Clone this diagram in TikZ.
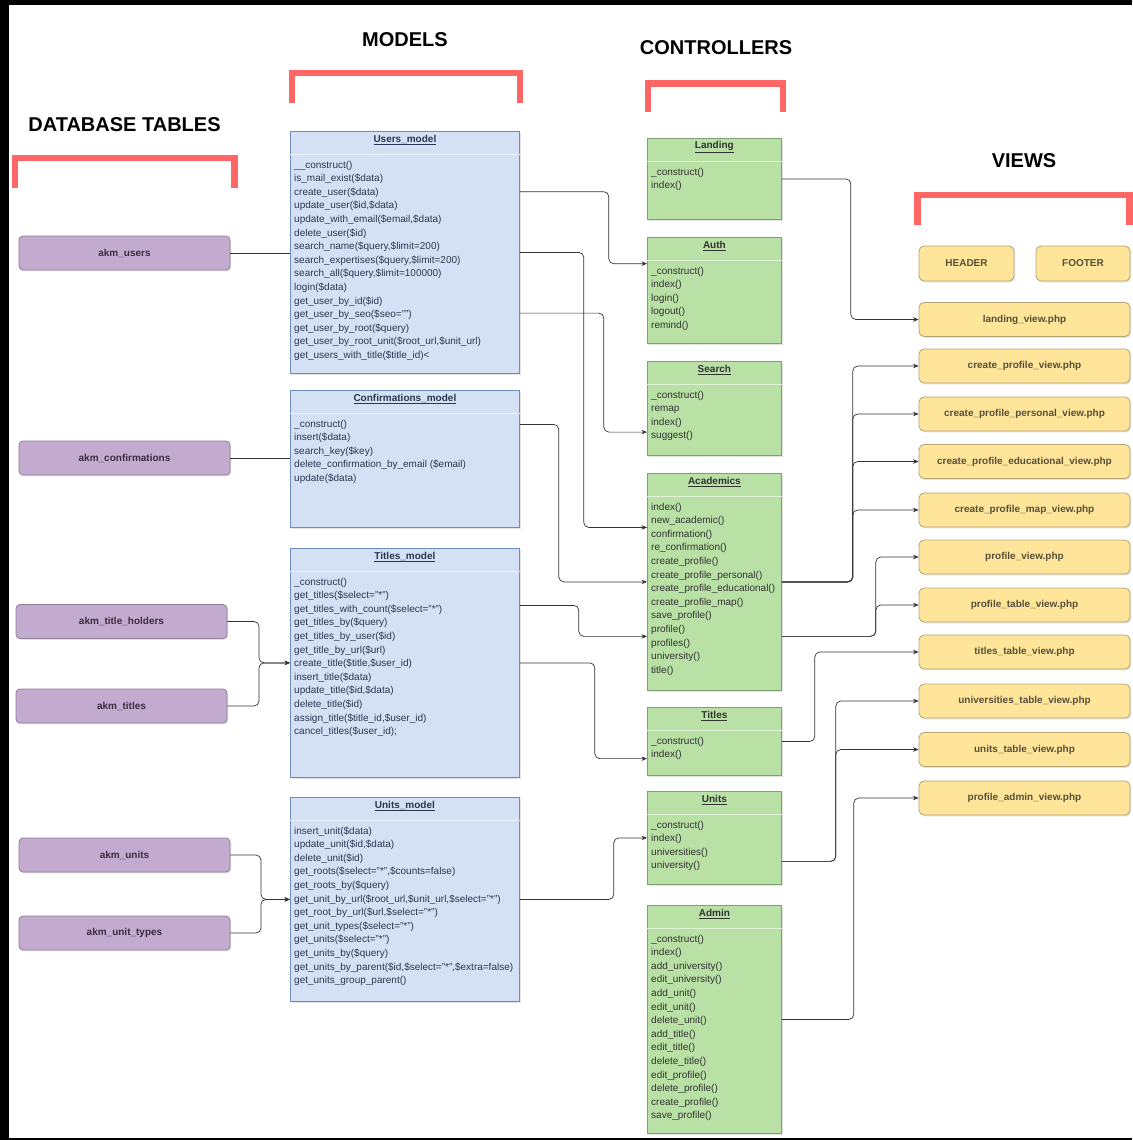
\documentclass[tikz,border=0pt]{standalone}
\usepackage{fontspec}
\setmainfont{Liberation Sans}
\usetikzlibrary{calc,arrows.meta,shadows}

\definecolor{bracketred}{HTML}{FF6666}
\definecolor{mdlfill}{HTML}{D4E1F5}
\definecolor{mdlline}{HTML}{6C8EBF}
\definecolor{mdltext}{HTML}{2A3650}
\definecolor{ctlfill}{HTML}{B9E0A5}
\definecolor{ctlline}{HTML}{7F9F74}
\definecolor{ctltext}{HTML}{333333}
\definecolor{dbfill}{HTML}{C3ABD0}
\definecolor{dbline}{HTML}{8E7F95}
\definecolor{dbtext}{HTML}{3A2D3E}
\definecolor{vwfill}{HTML}{FFE599}
\definecolor{vwline}{HTML}{B3A473}
\definecolor{vwtext}{HTML}{55503A}
\definecolor{wire}{HTML}{333333}

% class box: name, x, y, width, height, style prefix, title, member list
\newcommand\umlbox[8]{%
  \node[#6box, minimum width=#4pt, minimum height=#5pt, anchor=north west] (#1) at (#2,#3) {};
  \draw[#6sep] ([yshift=-23pt]#1.north west) -- ([yshift=-23pt]#1.north east);
  \node[#6title] (#1-t) at ([yshift=-9pt]#1.north) {\underline{#7}};
  \foreach \rw [count=\i] in {#8} {
    \node[#6row, anchor=west] (#1-r\i) at ($(#1.north west)+(4,{34.5+(\i-1)*13.6})$) {\rw};
  }%
}

\begin{document}
\begin{tikzpicture}[x=1pt,y=-1pt,
  heading/.style={font=\fontsize{20}{24}\selectfont\bfseries, text=black, inner sep=0pt},
  bracket/.style={draw=bracketred, line width=6.5pt, line join=miter},
  shade/.style={drop shadow={shadow xshift=1.2pt, shadow yshift=-1.4pt, opacity=0.22}},
  mdlbox/.style={draw=mdlline, fill=mdlfill, line width=0.8pt, inner sep=0pt, shade},
  mdlsep/.style={draw=white!55!mdlfill, line width=0.8pt},
  mdltitle/.style={font=\fontsize{10}{12}\selectfont\bfseries, text=mdltext, inner sep=0pt},
  mdlrow/.style={font=\fontsize{10}{12}\selectfont, text=mdltext, inner sep=0pt, text height=7.5pt, text depth=2.5pt},
  ctlbox/.style={draw=ctlline, fill=ctlfill, line width=0.8pt, inner sep=0pt, shade},
  ctlsep/.style={draw=white!55!ctlfill, line width=0.8pt},
  ctltitle/.style={font=\fontsize{10}{12}\selectfont\bfseries, text=ctltext, inner sep=0pt},
  ctlrow/.style={font=\fontsize{10}{12}\selectfont, text=ctltext, inner sep=0pt, text height=7.5pt, text depth=2.5pt},
  dbtable/.style={draw=dbline, fill=dbfill, rounded corners=4pt, line width=0.8pt,
    minimum width=211pt, minimum height=34pt, inner sep=0pt, text=dbtext,
    font=\fontsize{10}{12}\selectfont\bfseries, shade},
  viewbox/.style={draw=vwline, fill=vwfill, rounded corners=5pt, line width=0.8pt,
    minimum width=211pt, minimum height=34pt, inner sep=0pt, text=vwtext,
    font=\fontsize{10}{12}\selectfont\bfseries, shade},
  plain/.style={draw=wire, line width=0.7pt, rounded corners=5pt},
  link/.style={plain, -{Stealth[length=5.5pt,width=4.5pt]}}
]
\useasboundingbox (0,0) rectangle (1132,1140);
\fill[white] (0,0) rectangle (1132,1140);
% black frame around the sheet
\fill[black] (0,0) rectangle (1132,5);
\fill[black] (0,0) rectangle (9,1140);
\fill[black] (0,1137.5) rectangle (1132,1140);

% column headings and brackets
\node[heading] (h-db)   at (124.5,125) {DATABASE TABLES};
\node[heading] (h-mdl)  at (405,40)  {MODELS};
\node[heading] (h-ctl)  at (716,48)  {CONTROLLERS};
\node[heading] (h-view) at (1024,161) {VIEWS};
\draw[bracket] (15,188) -- (15,158) -- (234.5,158) -- (234.5,188);
\draw[bracket] (292,103) -- (292,73) -- (520,73) -- (520,103);
\draw[bracket] (648,112) -- (648,83.5) -- (783,83.5) -- (783,112);
\draw[bracket] (917.5,225) -- (917.5,195) -- (1129.5,195) -- (1129.5,225);

% database tables
\node[dbtable] (dt-users) at (124.5,253)   {akm\_users};
\node[dbtable] (dt-conf)  at (124.5,458)   {akm\_confirmations};
\node[dbtable] (dt-th)    at (121.5,621.5) {akm\_title\_holders};
\node[dbtable] (dt-tt)    at (121.5,706)   {akm\_titles};
\node[dbtable] (dt-units) at (124.5,855)   {akm\_units};
\node[dbtable] (dt-ut)    at (124.5,933)   {akm\_unit\_types};

% models
\umlbox{users}{290}{131}{229}{242}{mdl}{Users\_model}{%
  \_\_construct(), is\_mail\_exist(\$data), create\_user(\$data),
  {update\_user(\$id,\$data)}, {update\_with\_email(\$email,\$data)},
  delete\_user(\$id), {search\_name(\$query,\$limit=200)},
  {search\_expertises(\$query,\$limit=200)}, {search\_all(\$query,\$limit=100000)},
  login(\$data), get\_user\_by\_id(\$id), get\_user\_by\_seo(\$seo=""),
  get\_user\_by\_root(\$query), {get\_user\_by\_root\_unit(\$root\_url,\$unit\_url)},
  get\_users\_with\_title(\$title\_id)<}
\umlbox{conf}{290}{390}{229}{137}{mdl}{Confirmations\_model}{%
  \_construct(), insert(\$data), search\_key(\$key),
  delete\_confirmation\_by\_email (\$email), update(\$data)}
\umlbox{titles}{290}{548}{229}{229}{mdl}{Titles\_model}{%
  \_construct(), get\_titles(\$select="*"), get\_titles\_with\_count(\$select="*"),
  get\_titles\_by(\$query), get\_titles\_by\_user(\$id), get\_title\_by\_url(\$url),
  {create\_title(\$title,\$user\_id)}, insert\_title(\$data), {update\_title(\$id,\$data)},
  delete\_title(\$id), {assign\_title(\$title\_id,\$user\_id)}, {cancel\_titles(\$user\_id);}}
\umlbox{units}{290}{797}{229}{204}{mdl}{Units\_model}{%
  insert\_unit(\$data), {update\_unit(\$id,\$data)}, delete\_unit(\$id),
  {get\_roots(\$select="*",\$counts=false)}, get\_roots\_by(\$query),
  {get\_unit\_by\_url(\$root\_url,\$unit\_url,\$select="*")},
  {get\_root\_by\_url(\$url,\$select="*")}, get\_unit\_types(\$select="*"),
  get\_units(\$select="*"), get\_units\_by(\$query),
  {get\_units\_by\_parent(\$id,\$select="*",\$extra=false)}, get\_units\_group\_parent()}

% controllers
\umlbox{landing}{647}{138}{134}{81}{ctl}{Landing}{\_construct(), index()}
\umlbox{auth}{647}{237}{134}{106}{ctl}{Auth}{\_construct(), index(), login(), logout(), remind()}
\umlbox{search}{647}{361}{134}{94}{ctl}{Search}{\_construct(), remap, index(), suggest()}
\umlbox{academics}{647}{473}{134}{217}{ctl}{Academics}{%
  index(), new\_academic(), confirmation(), re\_confirmation(), create\_profile(),
  create\_profile\_personal(), create\_profile\_educational(), create\_profile\_map(),
  save\_profile(), profile(), profiles(), university(), title()}
\umlbox{titlesc}{647}{707}{134}{68}{ctl}{Titles}{\_construct(), index()}
\umlbox{unitsc}{647}{791}{134}{93}{ctl}{Units}{\_construct(), index(), universities(), university()}
\umlbox{admin}{647}{905}{134}{228}{ctl}{Admin}{%
  \_construct(), index(), add\_university(), edit\_university(), add\_unit(),
  edit\_unit(), delete\_unit(), add\_title(), edit\_title(), delete\_title(),
  edit\_profile(), delete\_profile(), create\_profile(), save\_profile()}

% views
\node[viewbox, minimum width=95pt, minimum height=35pt] (v-header) at (966.5,263.5) {HEADER};
\node[viewbox, minimum width=94pt, minimum height=35pt] (v-footer) at (1083,263.5) {FOOTER};
\node[viewbox] (v-landing) at (1024.5,319.5) {landing\_view.php};
\node[viewbox] (v-cp)      at (1024.5,366)   {create\_profile\_view.php};
\node[viewbox] (v-cpp)     at (1024.5,414)   {create\_profile\_personal\_view.php};
\node[viewbox] (v-cpe)     at (1024.5,461.5) {create\_profile\_educational\_view.php};
\node[viewbox] (v-cpm)     at (1024.5,510)   {create\_profile\_map\_view.php};
\node[viewbox] (v-prof)    at (1024.5,557)   {profile\_view.php};
\node[viewbox] (v-proft)   at (1024.5,605)   {profile\_table\_view.php};
\node[viewbox] (v-titles)  at (1024.5,652)   {titles\_table\_view.php};
\node[viewbox] (v-univ)    at (1024.5,701)   {universities\_table\_view.php};
\node[viewbox] (v-units)   at (1024.5,749.5) {units\_table\_view.php};
\node[viewbox] (v-admin)   at (1024.5,798)   {profile\_admin\_view.php};

% tables -> models
\draw[plain] (dt-users.east) -- (dt-users.east -| users.west);
\draw[plain] (dt-conf.east) -- (dt-conf.east -| conf.west);
\coordinate (tj) at (259,0 |- titles.west);
\draw[link] (dt-th.east) -| (tj) -- (titles.west);
\draw[link] (dt-tt.east) -| (tj) -- (titles.west);
\coordinate (uj) at (261,0 |- units.west);
\draw[link] (dt-units.east) -| (uj) -- (units.west);
\draw[link] (dt-ut.east) -| (uj) -- (units.west);

% models -> controllers
\draw[link] ($(users.north east)!0.25!(users.south east)$) -- ++(89,0)
  |- ($(auth.north west)!0.25!(auth.south west)$);
\draw[link] (users.east) -- ++(64,0)
  |- ($(academics.north west)!0.25!(academics.south west)$);
\draw[link] ($(users.north east)!0.75!(users.south east)$) -- ++(84,0)
  |- ($(search.north west)!0.75!(search.south west)$);
\draw[link] ($(conf.north east)!0.25!(conf.south east)$) -- ++(39,0)
  |- (academics.west);
\draw[link] ($(titles.north east)!0.25!(titles.south east)$) -- ++(59,0)
  |- ($(academics.north west)!0.75!(academics.south west)$);
\draw[link] (titles.east) -- ++(75,0)
  |- ($(titlesc.north west)!0.75!(titlesc.south west)$);
\draw[link] (units.east) -- ++(94,0) |- (unitsc.west);

% controllers -> views
\draw[link] (landing.east) -- ++(69,0) |- (v-landing.west);
\foreach \v in {v-cp, v-cpp, v-cpe, v-cpm}
  \draw[link] (academics.east) -- ++(71,0) |- (\v.west);
\foreach \v in {v-prof, v-proft}
  \draw[link] ($(academics.north east)!0.75!(academics.south east)$) -- ++(94,0) |- (\v.west);
\draw[link] (titlesc.east) -- ++(33,0) |- (v-titles.west);
\foreach \v in {v-univ, v-units}
  \draw[link] ($(unitsc.north east)!0.75!(unitsc.south east)$) -- ++(54,0) |- (\v.west);
\draw[link] (admin.east) -- ++(72,0) |- (v-admin.west);
\end{tikzpicture}
\end{document}
